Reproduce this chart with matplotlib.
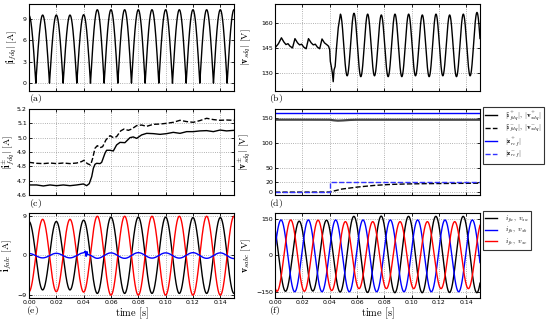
import numpy as np
import matplotlib.pyplot as plt

plt.rcParams['mathtext.fontset'] = 'cm'
plt.rcParams['font.family'] = 'DejaVu Sans'

## (a) |i_fdq| : hump centres [s] and hump heights [A]
a_hump_t = [0.00, 0.01, 0.02, 0.03, 0.04, 0.05, 0.06, 0.07, 0.08, 0.09, 0.10, 0.11, 0.12, 0.13, 0.14, 0.15]
a_hump_peak = [9.5, 9.55, 9.55, 9.55, 9.6, 10.3, 10.3, 10.3, 10.3, 10.3, 10.3, 10.3, 10.3, 10.3, 10.3, 10.3]

## (b) |v_sdq| : ripple before the fault, then 100 Hz oscillation (extrema)
b_t_pre = [0.000, 0.0025, 0.0047, 0.0065, 0.0080, 0.0095, 0.0110, 0.0128, 0.0146, 0.0165, 0.0180,
           0.0195, 0.0210, 0.0228, 0.0245, 0.0265, 0.0280, 0.0295, 0.0310, 0.0327, 0.0344, 0.0362,
           0.0378, 0.0392, 0.0400, 0.0405, 0.0412, 0.0420, 0.0426, 0.0432, 0.0440, 0.0450, 0.0463]
b_v_pre = [145.0, 147.5, 151.0, 148.5, 147.0, 147.5, 146.0, 145.0, 150.5, 148.0, 146.8,
           147.2, 145.5, 144.5, 150.5, 148.0, 146.8, 147.2, 145.5, 144.5, 150.3, 148.0,
           147.0, 146.0, 144.0, 137.0, 134.0, 130.0, 125.0, 132.0, 134.0, 145.0, 157.0]
b_t_ext = [0.0478, 0.0528, 0.0578, 0.0628, 0.0678, 0.0728, 0.0778, 0.0828, 0.0878, 0.0928, 0.0978,
           0.1028, 0.1078, 0.1128, 0.1178, 0.1228, 0.1278, 0.1328, 0.1378, 0.1428, 0.1478, 0.1528]
b_v_ext = [165, 128.5, 165.5, 128, 165, 128.5, 164.5, 128, 165, 128, 165,
           128.5, 164.5, 128, 165, 128.5, 164.5, 128, 165, 128.5, 166, 128]

## (c) positive / negative sequence current magnitudes
c_t_pos = [0.0, 0.0056, 0.0105, 0.0154, 0.0202, 0.0251, 0.0300, 0.0349, 0.0398, 0.0422, 0.0441,
           0.0459, 0.0471, 0.0483, 0.0495, 0.0520, 0.0532, 0.0556, 0.0568, 0.0593, 0.0617, 0.0641,
           0.0666, 0.0702, 0.0739, 0.0763, 0.0788, 0.0824, 0.0861, 0.0910, 0.0959, 0.1007, 0.1056,
           0.1105, 0.1154, 0.1202, 0.1251, 0.1300, 0.1349, 0.1398, 0.1446, 0.1500]
c_i_pos = [4.670, 4.670, 4.663, 4.670, 4.665, 4.670, 4.665, 4.670, 4.677, 4.665, 4.679,
           4.728, 4.786, 4.814, 4.821, 4.819, 4.828, 4.891, 4.912, 4.912, 4.907, 4.949,
           4.967, 4.965, 5.000, 5.005, 4.995, 5.019, 5.030, 5.028, 5.023, 5.028, 5.037,
           5.030, 5.042, 5.042, 5.047, 5.049, 5.042, 5.053, 5.047, 5.051]
c_t_neg = [0.0, 0.0056, 0.0105, 0.0154, 0.0202, 0.0251, 0.0300, 0.0349, 0.0385, 0.0402, 0.0427,
           0.0451, 0.0466, 0.0483, 0.0500, 0.0520, 0.0539, 0.0563, 0.0593, 0.0617, 0.0641, 0.0671,
           0.0695, 0.0727, 0.0751, 0.0788, 0.0824, 0.0861, 0.0910, 0.0959, 0.1007, 0.1056, 0.1105,
           0.1154, 0.1202, 0.1251, 0.1300, 0.1349, 0.1398, 0.1446, 0.1500]
c_i_neg = [4.828, 4.821, 4.819, 4.823, 4.819, 4.823, 4.819, 4.823, 4.833, 4.842, 4.819,
           4.809, 4.856, 4.926, 4.944, 4.930, 4.937, 4.984, 5.014, 5.000, 5.007, 5.047,
           5.060, 5.051, 5.060, 5.084, 5.088, 5.079, 5.093, 5.095, 5.100, 5.107, 5.121,
           5.112, 5.107, 5.119, 5.135, 5.126, 5.121, 5.123, 5.121]

## (d) sequence voltage magnitudes and references
d_t_vpos = [0.0, 0.02, 0.04, 0.043, 0.046, 0.05, 0.055, 0.06, 0.08, 0.10, 0.12, 0.15]
d_vpos = [147.3, 147.3, 147.2, 146.0, 145.3, 145.8, 146.8, 147.2, 147.2, 147.2, 147.2, 147.2]
d_t_vneg = [0.0, 0.04, 0.0488, 0.061, 0.073, 0.085, 0.0976, 0.11, 0.122, 0.135, 0.15]
d_vneg = [0.3, 0.5, 6.5, 10.8, 14.0, 16.0, 17.0, 17.5, 17.8, 18.1, 18.4]
d_t_zpos = [0.0, 0.15]
d_zpos = [161.0, 161.0]
d_t_zneg = [0.0, 0.04, 0.04, 0.15]
d_zneg = [0.0, 0.0, 20.0, 20.0]

## (e) phase currents: extrema times [s] and values [A]
e_t = [-0.01, 0.00, 0.01, 0.02, 0.03, 0.04, 0.05, 0.06, 0.07, 0.08, 0.09, 0.10, 0.11, 0.12, 0.13, 0.14, 0.15, 0.16]
e_ia = [-7.9, 7.8, -7.9, 7.8, -7.9, 8.1, -8.7, 8.8, -8.7, 8.8, -8.7, 8.8, -8.7, 8.7, -8.7, 8.7, -8.7, 8.7]
e_ic = [8.3, -8.3, 8.3, -8.3, 8.3, -8.4, 9.0, -9.1, 9.0, -9.1, 9.0, -9.1, 9.0, -9.1, 9.0, -9.1, 9.0, -9.1]
e_t_b = [-0.01, 0.00, 0.01, 0.02, 0.03, 0.04, 0.0412, 0.0418, 0.0424, 0.0430, 0.05, 0.06, 0.07,
         0.08, 0.09, 0.10, 0.11, 0.12, 0.13, 0.14, 0.15, 0.16]
e_ib = [-0.5, 0.45, -0.55, 0.5, -0.55, 0.6, 1.0, -0.2, 0.9, 0.2, -0.65, 0.6, -0.65,
        0.65, -0.6, 0.6, -0.6, 0.65, -0.65, 0.6, -0.7, 0.6]

## (f) phase voltages: extrema times [s] and values [V]
f_t_a = [-0.0023, 0.0077, 0.0177, 0.0277, 0.0377, 0.0477, 0.0577, 0.0677, 0.0777, 0.0877, 0.0977,
         0.1077, 0.1177, 0.1277, 0.1377, 0.1477, 0.1577]
f_va = [148, -149, 143, -148, 147, -152, 163, -154, 164, -155, 163, -155, 163, -154, 163, -155, 163]
f_t_b = [-0.0056, 0.0044, 0.0144, 0.0244, 0.0344, 0.0444, 0.0544, 0.0644, 0.0744, 0.0844, 0.0944,
         0.1044, 0.1144, 0.1244, 0.1344, 0.1444, 0.1544]
f_vb = [-150, 148, -151, 148, -151, 148, -151, 148, -151, 148, -151, 148, -151, 148, -151, 148, -151]
f_t_c = [-0.0085, 0.0015, 0.0115, 0.0215, 0.0315, 0.0415, 0.0515, 0.0615, 0.0715, 0.0815, 0.0915,
         0.1015, 0.1115, 0.1215, 0.1315, 0.1415, 0.1515]
f_vc = [148, -149, 148, -149, 147, -146, 141, -138, 141, -138, 141, -138, 141, -138, 141, -138, 141]


def smooth_wave(te, ve, tt):
    ## half-cosine segments joining consecutive extrema
    te = np.asarray(te, float)
    ve = np.asarray(ve, float)
    i = np.clip(np.searchsorted(te, tt, side='right') - 1, 0, len(te) - 2)
    f = (tt - te[i]) / (te[i + 1] - te[i])
    return (ve[i] + ve[i + 1]) / 2 + (ve[i] - ve[i + 1]) / 2 * np.cos(np.pi * f)


def style(ax, ylim, yticks, fmt, xlabels=False):
    ax.set_xlim(0, 0.15)
    ax.set_ylim(ylim)
    ax.set_xticks(np.arange(0, 0.151, 0.02))
    ax.set_yticks(yticks)
    ax.set_yticklabels([fmt.format(v).replace('-', '\u2212') for v in yticks])
    if xlabels:
        ax.set_xticklabels(['%.2f' % v for v in np.arange(0, 0.151, 0.02)])
        ax.set_xlabel(r'$\mathrm{time}\ [\mathrm{s}]$', fontsize=7.5, labelpad=0)
    else:
        ax.set_xticklabels([])
    ax.grid(True, ls=':', lw=0.6, color='#999999')
    ax.tick_params(direction='in', top=True, right=True, length=2.5, width=0.6,
                   labelsize=4.5, pad=1.5)
    for s in ax.spines.values():
        s.set_linewidth(0.8)


t = np.linspace(0, 0.15, 3001)
fig = plt.figure(figsize=(5.5, 3.23), dpi=100)

W = 0.3727
xl, xr = 0.0527, 0.5
rows = [(0.7183, 0.2693), (0.3963, 0.2663), (0.0774, 0.2632)]

ax_a = fig.add_axes([xl, rows[0][0], W, rows[0][1]])
ax_b = fig.add_axes([xr, rows[0][0], W, rows[0][1]])
ax_c = fig.add_axes([xl, rows[1][0], W, rows[1][1]])
ax_d = fig.add_axes([xr, rows[1][0], W, rows[1][1]])
ax_e = fig.add_axes([xl, rows[2][0], W, rows[2][1]])
ax_f = fig.add_axes([xr, rows[2][0], W, rows[2][1]])

## (a)
k = np.clip(np.round(t / 0.01).astype(int), 0, len(a_hump_t) - 1)
a_peak = np.asarray(a_hump_peak)[k]
a_cen = np.asarray(a_hump_t)[k]
ax_a.plot(t, a_peak * np.abs(np.cos(np.pi * (t - a_cen) / 0.01)), 'k', lw=1.0)
style(ax_a, (-1.1, 11.1), [0, 3, 6, 9], '{:d}')
ax_a.set_ylabel(r'$|\mathbf{i}_{fdq}|\ [\mathrm{A}]$', fontsize=7)
ax_a.yaxis.set_label_coords(-0.05, 0.5)

## (b)
tb = t[t >= b_t_ext[0]]
b_time = np.concatenate([b_t_pre, tb])
b_val = np.concatenate([b_v_pre, smooth_wave(b_t_ext, b_v_ext, tb)])
ax_b.plot(b_time, b_val, 'k', lw=1.0)
style(ax_b, (119.5, 171), [130, 145, 160], '{:d}')
ax_b.set_ylabel(r'$|\mathbf{v}_{sdq}|\ [\mathrm{V}]$', fontsize=7)
ax_b.yaxis.set_label_coords(-0.107, 0.5)

## (c)
ax_c.plot(c_t_pos, c_i_pos, 'k', lw=1.0)
ax_c.plot(c_t_neg, c_i_neg, 'k--', lw=1.0)
style(ax_c, (4.6, 5.2), [4.6, 4.7, 4.8, 4.9, 5.0, 5.1, 5.2], '{:.1f}')
ax_c.set_ylabel(r'$|\mathbf{i}^{\pm}_{fdq}|\ [\mathrm{A}]$', fontsize=7)
ax_c.yaxis.set_label_coords(-0.064, 0.5)

## (d)
ax_d.plot(d_t_vpos, d_vpos, color='#444444', lw=1.6)
ax_d.plot(d_t_vneg, d_vneg, 'k--', lw=1.0)
ax_d.plot(d_t_zpos, d_zpos, color='#0000ff', lw=1.0)
ax_d.plot(d_t_zneg, d_zneg, '--', color='#3333ff', lw=1.0)
style(ax_d, (-5.5, 169), [0, 20, 50, 100, 150], '{:d}')
ax_d.set_ylabel(r'$|\mathbf{v}^{\pm}_{sdq}|\ [\mathrm{V}]$', fontsize=7)
ax_d.yaxis.set_label_coords(-0.112, 0.5)
hd = [plt.Line2D([], [], color='k', lw=1.0),
      plt.Line2D([], [], color='k', lw=1.0, ls='--'),
      plt.Line2D([], [], color='#0000ff', lw=1.0),
      plt.Line2D([], [], color='#3333ff', lw=1.0, ls='--')]
ld = [r'$|\mathbf{i}^{+}_{fdq}|,\ |\mathbf{v}^{+}_{sdq}|$',
      r'$|\mathbf{i}^{-}_{fdq}|,\ |\mathbf{v}^{-}_{sdq}|$',
      r'$|\mathbf{z}^{+}_{ref}|$',
      r'$|\mathbf{z}^{-}_{ref}|$']
leg_kw = dict(loc='upper left', bbox_transform=fig.transFigure, fontsize=5.2, handlelength=1.7,
              handletextpad=1.1, labelspacing=0.05, borderaxespad=0, fancybox=False,
              framealpha=1, edgecolor='#333333', borderpad=0.3)
lg = ax_d.legend(hd, ld, bbox_to_anchor=(0.878, 0.669), **leg_kw)
lg.get_frame().set_linewidth(0.8)

## (e)
ax_e.plot(t, smooth_wave(e_t, e_ia, t), 'k', lw=1.0)
ax_e.plot(t, smooth_wave(e_t, e_ic, t), color='#ff0000', lw=1.0)
ax_e.plot(t, smooth_wave(e_t_b, e_ib, t), color='#0000ff', lw=1.0)
style(ax_e, (-9.75, 9.75), [-9, 0, 9], '{:d}', xlabels=True)
ax_e.set_ylabel(r'$\mathbf{i}_{fabc}\ [\mathrm{A}]$', fontsize=7)
ax_e.yaxis.set_label_coords(-0.075, 0.5)

## (f)
ax_f.plot(t, smooth_wave(f_t_a, f_va, t), 'k', lw=1.0)
ax_f.plot(t, smooth_wave(f_t_b, f_vb, t), color='#0000ff', lw=1.0)
ax_f.plot(t, smooth_wave(f_t_c, f_vc, t), color='#ff0000', lw=1.0)
style(ax_f, (-177, 177), [-150, 0, 150], '{:d}', xlabels=True)
ax_f.set_ylabel(r'$\mathbf{v}_{sabc}\ [\mathrm{V}]$', fontsize=7)
ax_f.yaxis.set_label_coords(-0.107, 0.5)
hf = [plt.Line2D([], [], color='k', lw=1.0),
      plt.Line2D([], [], color='#0000ff', lw=1.0),
      plt.Line2D([], [], color='#ff0000', lw=1.0)]
lf = [r'$i_{fa},\ v_{sa}$', r'$i_{fb},\ v_{sb}$', r'$i_{fc},\ v_{sc}$']
lg2 = ax_f.legend(hf, lf, bbox_to_anchor=(0.878, 0.347), **leg_kw)
lg2.get_frame().set_linewidth(0.8)

## panel tags
for txt, x, y in [('a', 0.052, 0.6935), ('b', 0.489, 0.6935), ('c', 0.052, 0.3715),
                  ('d', 0.489, 0.3715), ('e', 0.047, 0.040), ('f', 0.489, 0.040)]:
    fig.text(x, y, r'$(\mathrm{%s})$' % txt, fontsize=7, ha='left', va='center')

fig.savefig('out.png', dpi=100)
